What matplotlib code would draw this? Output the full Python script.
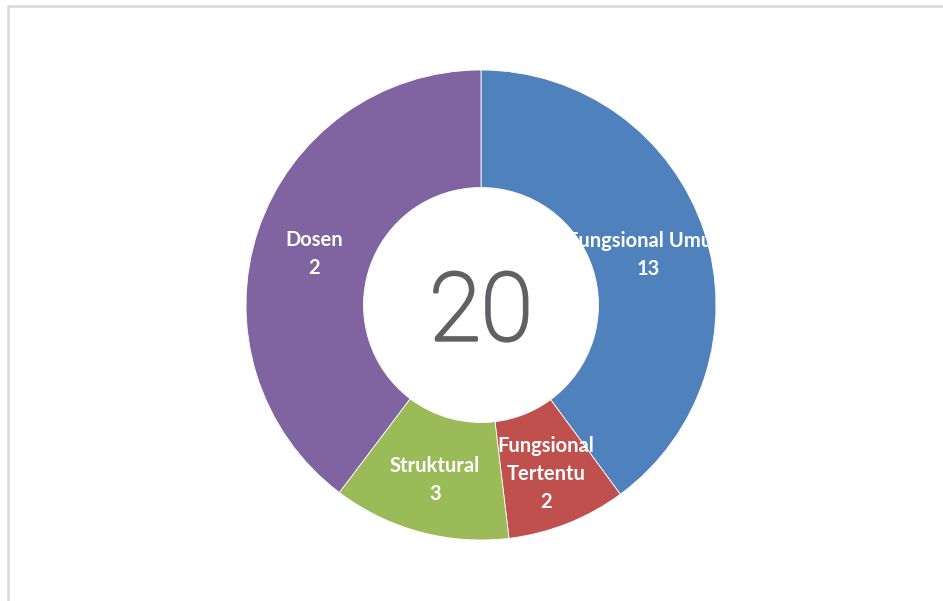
import matplotlib
matplotlib.use('Agg')
import matplotlib.pyplot as plt
import matplotlib.patheffects as pe
from matplotlib.patches import Rectangle
import numpy as np

# slice shares as drawn in the picture, and the counts shown in the labels
categories = ['Fungsional Umum', 'Fungsional\nTertentu', 'Struktural', 'Dosen']
shares = [39.9, 8.2, 12.2, 39.7]
counts = [13, 2, 3, 2]
total_label = '20'
colors = ['#4F81BD', '#C0504D', '#9BBB59', '#8064A2']

W, H = 943, 601
fig = plt.figure(figsize=(W / 100, H / 100), dpi=100)
fig.patch.set_facecolor('white')

# light grey frame (only top and left edges visible)
fig.add_artist(Rectangle((8 / W, -0.05), 1.0, (H - 6.5) / H + 0.05,
                         transform=fig.transFigure, fill=False,
                         edgecolor='#d9d9d9', lw=1.8))

cx, cy, r = 481, 305, 235
ax = fig.add_axes([(cx - r) / W, (H - cy - r) / H, 2 * r / W, 2 * r / H])

wedges, _ = ax.pie(shares, colors=colors, startangle=90, counterclock=False,
                   radius=1.0,
                   wedgeprops=dict(width=0.5, edgecolor='white', linewidth=0.6))
ax.set_xlim(-1, 1)
ax.set_ylim(-1, 1)
ax.axis('off')

for w, name, n in zip(wedges, categories, counts):
    ang = np.deg2rad((w.theta1 + w.theta2) / 2)
    x, y = 0.75 * np.cos(ang), 0.75 * np.sin(ang)
    ax.text(x, y - 0.02, f'{name}\n{n}', ha='center', va='center', color='white',
            fontsize=14.5, fontweight='bold', family=['Lato', 'DejaVu Sans'],
            linespacing=1.5)

# centre total: thin face thickened a little to match the reference
ax.text(0, -0.04, total_label, ha='center', va='center', color='#606066',
        fontsize=68, fontweight='light', family=['Roboto', 'DejaVu Sans'],
        path_effects=[pe.withStroke(linewidth=2.2, foreground='#606066')])

fig.savefig('out.png', dpi=100, facecolor='white')
